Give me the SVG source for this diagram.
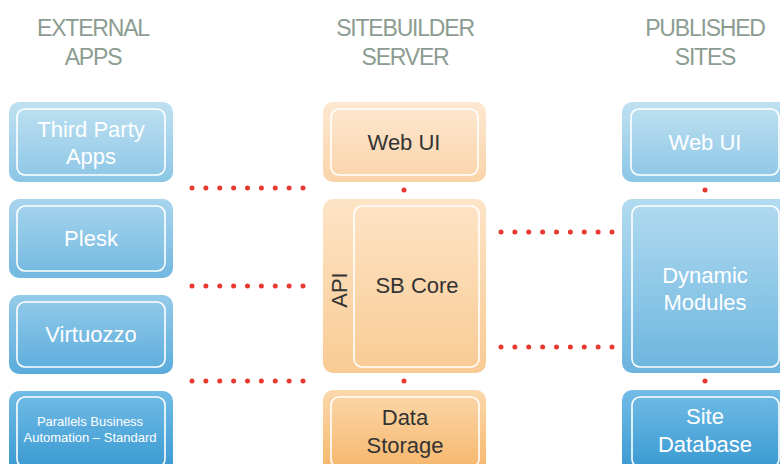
<svg xmlns="http://www.w3.org/2000/svg" width="780" height="464" viewBox="0 0 780 464">
<defs>
<linearGradient id="b1" x1="0" y1="0" x2="0" y2="1"><stop offset="0" stop-color="#bfe1f1"/><stop offset="1" stop-color="#8cc6e6"/></linearGradient>
<linearGradient id="b2" x1="0" y1="0" x2="0" y2="1"><stop offset="0" stop-color="#a8d5ee"/><stop offset="1" stop-color="#72b8e0"/></linearGradient>
<linearGradient id="b3" x1="0" y1="0" x2="0" y2="1"><stop offset="0" stop-color="#95cbea"/><stop offset="1" stop-color="#5aacdc"/></linearGradient>
<linearGradient id="b4" x1="0" y1="0" x2="0" y2="1"><stop offset="0" stop-color="#72bce6"/><stop offset="1" stop-color="#3597d0"/></linearGradient>
<linearGradient id="bd" x1="0" y1="0" x2="0" y2="1"><stop offset="0" stop-color="#b2dbf0"/><stop offset="1" stop-color="#6cb5df"/></linearGradient>
<linearGradient id="o1" x1="0" y1="0" x2="0" y2="1"><stop offset="0" stop-color="#fde8d2"/><stop offset="1" stop-color="#fad4a9"/></linearGradient>
<linearGradient id="o2" x1="0" y1="0" x2="0" y2="1"><stop offset="0" stop-color="#fde4c6"/><stop offset="1" stop-color="#f9cb94"/></linearGradient>
<linearGradient id="o3" x1="0" y1="0" x2="0" y2="1"><stop offset="0" stop-color="#fbd8ab"/><stop offset="1" stop-color="#f6b467"/></linearGradient>
</defs>
<style>
.hdr{font-family:"Liberation Sans",Arial,sans-serif;font-size:23px;fill:#8c9c91;text-anchor:middle;letter-spacing:-1.2px}
.inner{fill:none;stroke:#ffffff;stroke-width:1.6}
.wt{font-family:"Liberation Sans",Arial,sans-serif;font-size:22px;fill:#ffffff;text-anchor:middle}
.dk{font-family:"Liberation Sans",Arial,sans-serif;font-size:22px;fill:#333333;text-anchor:middle}
.sm{font-family:"Liberation Sans",Arial,sans-serif;font-size:13px;fill:#ffffff;text-anchor:middle}
.dots{stroke:#e8392f;stroke-width:5;stroke-linecap:round;stroke-dasharray:0 13.875;fill:none}
.dot{fill:#e8392f}
</style>
<g id="headers">
<text class="hdr" x="93" y="36">EXTERNAL</text>
<text class="hdr" x="93" y="65">APPS</text>
<text class="hdr" x="405" y="36">SITEBUILDER</text>
<text class="hdr" x="405" y="65">SERVER</text>
<text class="hdr" x="705" y="36">PUBLISHED</text>
<text class="hdr" x="705" y="65">SITES</text>
</g>
<g id="third-party">
<rect x="9" y="102" width="164" height="80" rx="10" fill="url(#b1)"/>
<rect class="inner" x="17" y="109" width="148" height="66" rx="8"/>
<text class="wt" x="91" y="137">Third Party</text>
<text class="wt" x="91" y="164">Apps</text>
</g>
<g id="plesk">
<rect x="9" y="199" width="164" height="79" rx="10" fill="url(#b2)"/>
<rect class="inner" x="17" y="206" width="148" height="65" rx="8"/>
<text class="wt" x="91" y="246">Plesk</text>
</g>
<g id="virtuozzo">
<rect x="9" y="295" width="164" height="79" rx="10" fill="url(#b3)"/>
<rect class="inner" x="17" y="302" width="148" height="65" rx="8"/>
<text class="wt" x="91" y="342">Virtuozzo</text>
</g>
<g id="pba">
<rect x="9" y="391" width="164" height="85" rx="10" fill="url(#b4)"/>
<rect class="inner" x="17" y="397" width="148" height="70" rx="8"/>
<text class="sm" x="90" y="426">Parallels Business</text>
<text class="sm" x="90" y="442">Automation – Standard</text>
</g>
<g id="sb-webui">
<rect x="323" y="102" width="163" height="80" rx="10" fill="url(#o1)"/>
<rect class="inner" x="331" y="109" width="147" height="66" rx="8"/>
<text class="dk" x="404" y="150">Web UI</text>
</g>
<g id="sb-core">
<rect x="323" y="199" width="163" height="174" rx="10" fill="url(#o2)"/>
<rect class="inner" x="354" y="206" width="125" height="161" rx="8"/>
<text class="dk" x="417" y="293">SB Core</text>
<text class="dk" transform="translate(347,290) rotate(-90)" x="0" y="0">API</text>
</g>
<g id="data-storage">
<rect x="323" y="390" width="163" height="86" rx="10" fill="url(#o3)"/>
<rect class="inner" x="331" y="397" width="148" height="70" rx="8"/>
<text class="dk" x="405" y="425">Data</text>
<text class="dk" x="405" y="453">Storage</text>
</g>
<g id="ps-webui">
<rect x="622" y="102" width="170" height="80" rx="10" fill="url(#b1)"/>
<rect class="inner" x="631" y="109" width="148" height="66" rx="8"/>
<text class="wt" x="705" y="150">Web UI</text>
</g>
<g id="dynamic-modules">
<rect x="622" y="199" width="170" height="174" rx="10" fill="url(#bd)"/>
<rect class="inner" x="632" y="206" width="147" height="161" rx="8"/>
<text class="wt" x="705" y="283">Dynamic</text>
<text class="wt" x="705" y="310">Modules</text>
</g>
<g id="site-database">
<rect x="622" y="390" width="170" height="86" rx="10" fill="url(#b4)"/>
<rect class="inner" x="632" y="397" width="147" height="70" rx="8"/>
<text class="wt" x="705" y="424">Site</text>
<text class="wt" x="705" y="452">Database</text>
</g>
<g id="connectors">
<line class="dots" x1="192" y1="188" x2="304" y2="188"/>
<line class="dots" x1="192" y1="286" x2="304" y2="286"/>
<line class="dots" x1="192" y1="381" x2="304" y2="381"/>
<line class="dots" x1="501" y1="232" x2="613" y2="232"/>
<line class="dots" x1="501" y1="347" x2="613" y2="347"/>
<circle class="dot" cx="404" cy="190" r="2.5"/>
<circle class="dot" cx="404" cy="381" r="2.5"/>
<circle class="dot" cx="705" cy="190" r="2.5"/>
<circle class="dot" cx="705" cy="381" r="2.5"/>
</g>
</svg>
